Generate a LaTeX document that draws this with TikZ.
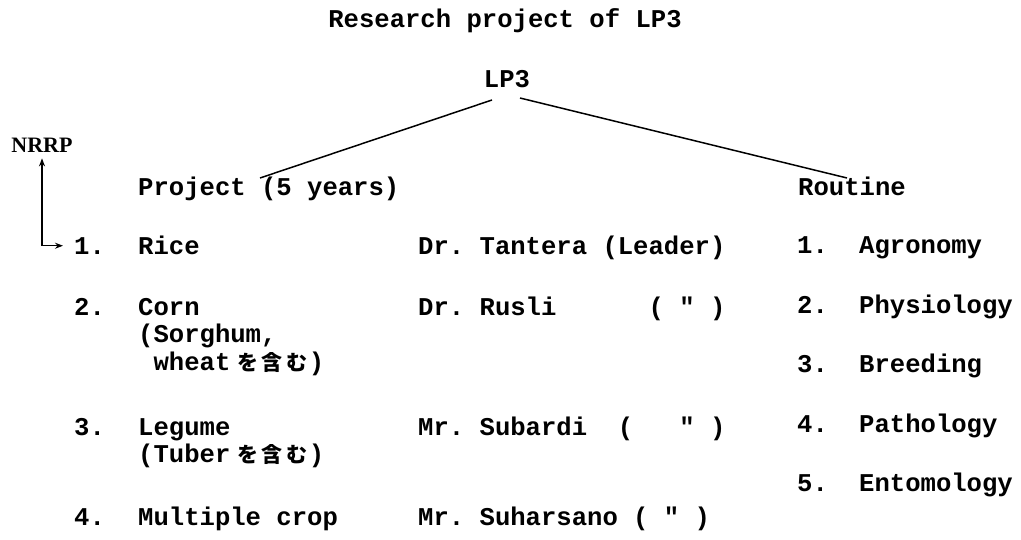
\documentclass[tikz,border=0pt]{standalone}
\usepackage{fontspec}
\usetikzlibrary{arrows.meta}
\newfontfamily\twf{Liberation Mono}
\newfontfamily\nrf{Liberation Serif}
\newfontfamily\jpf{Noto Sans CJK JP}
\newcommand\tw{\twf\bfseries\fontsize{25.6}{30}\selectfont\frenchspacing}
\newcommand\jc[1]{\makebox[24.5pt]{\jpf\fontsize{21}{24}\selectfont #1}}
\newcommand\jgap{\hspace{5pt}}
\begin{document}
\begin{tikzpicture}[x=1pt,y=-1pt,
  t/.style={font=\tw, inner sep=0pt, anchor=mid west},
  link/.style={line width=1.5pt},
  arr/.style={line width=1.4pt, {Stealth[length=8pt,width=6pt]}-{Stealth[length=8pt,width=6pt]}}]
\useasboundingbox (0,0) rectangle (1021,540);
\fill[white] (0,0) rectangle (1021,540);
% header
\node[t, anchor=mid] (title) at (505,25) {Research project of LP3};
\node[t, anchor=mid] (lp3) at (507,85) {LP3};
\node[font=\nrf\bfseries\fontsize{22}{26}\selectfont, inner sep=0pt] (nrrp) at (42,145) {NRRP};
\node[t] (proj) at (138,193) {Project (5 years)};
\node[t] (routine) at (798,193) {Routine};
% branch links
\coordinate (lp3L) at (492,100);
\coordinate (lp3R) at (520,98);
\coordinate (projT) at (260,178);
\coordinate (routT) at (847,178);
\draw[link] (lp3L) -- (projT);
\draw[link] (lp3R) -- (routT);
% project list
\node[t] (n1) at (74,252) {1.};
\node[t] (n2) at (74,313) {2.};
\node[t] (n3) at (74,433) {3.};
\node[t] (n4) at (74,523) {4.};
\node[t] (c1) at (138,252) {Rice};
\node[t] (c2) at (138,313) {Corn};
\node[t] (c2a) at (138,340) {(Sorghum,};
\node[t] (c2b) at (153.4,368) {wheat\jgap\jc{を}\jc{含}\jc{む})};
\node[t] (c3) at (138,433) {Legume};
\node[t] (c3a) at (138,460) {(Tuber\jgap\jc{を}\jc{含}\jc{む})};
\node[t] (c4) at (138,523) {Multiple crop};
\node[t] (l1) at (418,252) {Dr.~Tantera~(Leader)};
\node[t] (l2) at (418,313) {Dr.~Rusli~~~~~~(~"~)};
\node[t] (l3) at (418,433) {Mr.~Subardi~~(~~~"~)};
\node[t] (l4) at (418,523) {Mr.~Suharsano~(~"~)};
% routine list
\node[t] (m1) at (797,251) {1.};
\node[t] (m2) at (797,311) {2.};
\node[t] (m3) at (797,370) {3.};
\node[t] (m4) at (797,430) {4.};
\node[t] (m5) at (797,489) {5.};
\node[t] (r1) at (859,251) {Agronomy};
\node[t] (r2) at (859,311) {Physiology};
\node[t] (r3) at (859,370) {Breeding};
\node[t] (r4) at (859,430) {Pathology};
\node[t] (r5) at (859,489) {Entomology};
% NRRP feedback arrow
\draw[arr] ([yshift=-6pt]nrrp.south) |- ([xshift=-11pt]n1.west);
\end{tikzpicture}
\end{document}
